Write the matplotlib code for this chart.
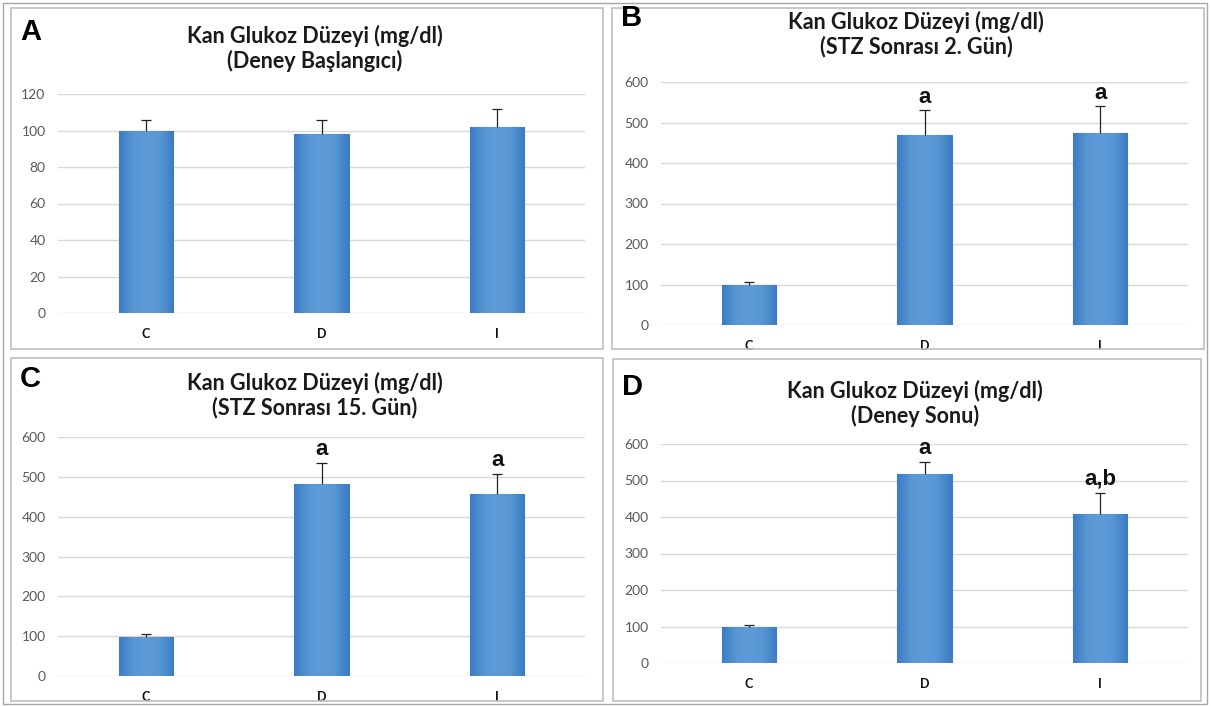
import numpy as np
import matplotlib.pyplot as plt
from matplotlib.patches import Rectangle
from matplotlib.colors import LinearSegmentedColormap

# Data (mean and upper SD for each group)
groups = ['C', 'D', 'I']
means_a = [100, 98, 102]
errs_a = [6, 8, 10]
means_b = [98, 470, 475]
errs_b = [7, 60, 65]
means_c = [98, 483, 458]
errs_c = [8, 52, 49]
means_d = [98, 517, 407]
errs_d = [7, 34, 60]

letters_b = ['', 'a', 'a']
letters_c = ['', 'a', 'a']
letters_d = ['', 'a', 'a,b']

title_line = 'Kan Glukoz Düzeyi (mg/dl)'
subtitles = ['(Deney Başlangıcı)', '(STZ Sonrası 2. Gün)',
             '(STZ Sonrası 15. Gün)', '(Deney Sonu)']
panel_letters = ['A', 'B', 'C', 'D']

W, H = 1211, 706
fig = plt.figure(figsize=(W / 100, H / 100), dpi=100)
fig.patch.set_facecolor('white')

# excel-like bar shading: darker at the edges, lighter in the middle
bar_cmap = LinearSegmentedColormap.from_list(
    'bar', ['#3b7cc4', '#5796d3', '#5e9cd8', '#5796d3', '#3b7cc4'])
grad = np.linspace(0, 1, 64).reshape(1, -1)


def px_axes(x0, x1, ytop, ybot):
    # pixel box (top-left origin) -> figure fraction axes
    return fig.add_axes([x0 / W, 1 - ybot / H, (x1 - x0) / W, (ybot - ytop) / H])


def frame(x0, y0, x1, y1, color='#bfbfbf', lw=1.2):
    fig.patches.append(Rectangle((x0 / W, 1 - y1 / H), (x1 - x0) / W, (y1 - y0) / H,
                                 transform=fig.transFigure, fill=False,
                                 edgecolor=color, linewidth=lw, zorder=0))


# outer border and panel frames
frame(3, 3, 1207, 704, color='#a6a6a6', lw=1.0)
frame(11, 8, 603, 349)
frame(612, 8, 1204, 349)
frame(11, 358, 603, 701)
frame(613, 359, 1201, 701)

panels = [
    # means, errs, letters, ylim top, step, axes box, frame box, title y
    (means_a, errs_a, ['', '', ''], 120, 20, (58, 585, 94, 313), (11, 603), 36),
    (means_b, errs_b, letters_b, 600, 100, (661, 1188, 82, 325), (612, 1204), 22),
    (means_c, errs_c, letters_c, 600, 100, (58, 585, 437, 676), (11, 603), 383),
    (means_d, errs_d, letters_d, 600, 100, (661, 1188, 444, 663), (613, 1201), 391),
]

x = np.arange(len(groups))
bw = 0.31
cap = 0.03
for i, (m, e, lab, top, step, box, fbox, ty) in enumerate(panels):
    ax = px_axes(*box)
    bars = ax.bar(x, m, width=bw, color='#5b9bd5', edgecolor='#3f7ec4',
                  linewidth=0.8, zorder=3)
    for b in bars:
        im = ax.imshow(grad, cmap=bar_cmap, aspect='auto', zorder=3.5,
                       extent=[b.get_x(), b.get_x() + b.get_width(), 0, b.get_height()])
        im.set_clip_path(b)
    # upper error bars only
    tops = np.array(m) + np.array(e)
    ax.vlines(x, m, tops, color='#222222', linewidth=0.9, zorder=4)
    ax.hlines(tops, x - cap, x + cap, color='#222222', linewidth=0.9, zorder=4)
    for xi, ti, t in zip(x, tops, lab):
        if t:
            ax.annotate(t, (xi, ti), xytext=(0, 2), textcoords='offset points',
                        ha='center', va='bottom', fontsize=16, fontweight='bold',
                        family='Liberation Sans', color='#111111')
    ax.set_xlim(-0.5, 2.5)
    ax.set_ylim(0, top)
    ax.set_yticks(np.arange(0, top + 1, step))
    ax.yaxis.grid(True, color='#d9d9d9', linewidth=1.0, zorder=0)
    ax.set_axisbelow(True)
    for s in ax.spines.values():
        s.set_visible(False)
    ax.tick_params(axis='both', length=0)
    ax.tick_params(axis='y', pad=9, labelsize=10, labelcolor='#595959')
    ax.tick_params(axis='x', pad=11)
    ax.set_xticks(x)
    ax.set_xticklabels(groups, fontsize=9, fontweight='bold', color='#111111')
    for t in ax.get_yticklabels():
        t.set_family('Lato')
    for t in ax.get_xticklabels():
        t.set_family('Lato')

    cx = (fbox[0] + fbox[1]) / 2 + 8
    fig.text(cx / W, 1 - ty / H, title_line, ha='center', va='center',
             fontsize=15.5, fontweight='bold', family='Lato', color='#1a1a1a')
    fig.text(cx / W, 1 - (ty + 25) / H, subtitles[i], ha='center', va='center',
             fontsize=15.5, fontweight='bold', family='Lato', color='#1a1a1a')
    fig.text((fbox[0] + 9) / W, 1 - (ty - 4) / H, panel_letters[i], ha='left',
             va='center', fontsize=21, fontweight='bold', family='Liberation Sans',
             color='black')

fig.savefig('out.png', dpi=100)
